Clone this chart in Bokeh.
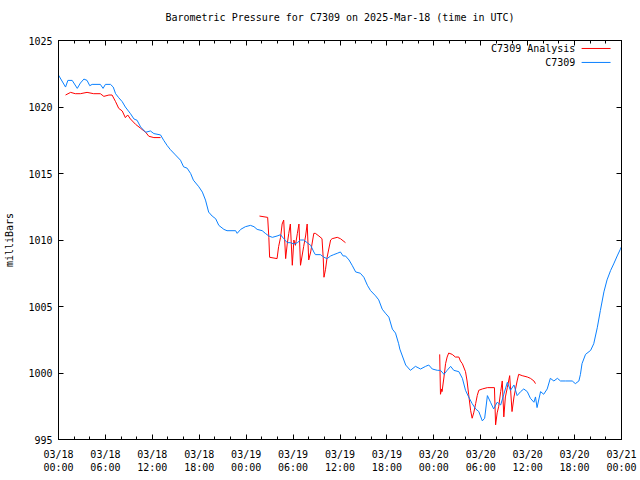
import math
from bokeh.plotting import figure
from bokeh.models import (FixedTicker, LinearAxis, Range1d, Label, Arrow,
                          ColumnDataSource, CustomLabelingPolicy)
from bokeh.embed import file_html
from bokeh.resources import INLINE

# ---------------- data (hours since 2025-03-18 00:00 UTC, millibars) ----------------
blue_hours = [0.0, 0.9, 1.2, 1.75, 2.4, 2.8, 3.25, 3.65, 4.0, 4.3,
              5.35, 5.7, 6.0, 6.65, 7.0, 7.3, 7.7, 8.15, 8.55, 9.2,
              9.65, 10.05, 10.5, 11.15, 11.75, 12.2, 13.05, 13.45, 13.9, 14.3,
              14.95, 15.6, 16.0, 16.45, 16.9, 17.25, 17.95, 18.4, 18.8, 19.2,
              19.65, 20.1, 20.5, 21.15, 21.55, 22.65, 22.85, 23.3, 23.9, 24.55,
              25.0, 25.4, 26.05, 26.45, 26.9, 27.35, 27.95, 28.4, 28.8, 29.25,
              29.65, 30.1, 30.55, 30.95, 31.35, 31.8, 32.25, 32.65, 32.85, 33.5,
              33.95, 34.35, 34.8, 35.2, 35.65, 36.05, 36.4, 36.7, 37.15, 37.55,
              38.0, 38.6, 39.05, 39.5, 39.9, 40.55, 40.95, 41.4, 41.8, 42.25,
              42.7, 43.1, 43.5, 43.65, 44.4, 45.0, 45.65, 46.3, 46.95, 47.35,
              47.8, 48.45, 48.85, 49.3, 49.7, 50.15, 50.55, 51.2, 51.65, 52.05,
              52.45, 52.9, 53.35, 53.75, 54.2, 54.5, 54.85, 55.25, 55.65, 56.1,
              56.55, 56.95, 57.4, 57.8, 58.25, 58.65, 59.1, 59.5, 59.95, 60.35,
              60.8, 61.0, 61.2, 61.65, 62.05, 62.5, 62.9, 63.35, 63.8, 64.2,
              64.85, 65.7, 66.1, 66.55, 66.75, 66.95, 67.4, 68.05, 68.45, 68.9,
              69.3, 69.75, 70.15, 70.6, 71.0, 71.45, 71.85, 72.0]
blue_mb = [1022.4, 1021.5, 1022.0, 1022.0, 1021.4, 1021.8, 1022.1, 1022.0, 1021.6, 1021.7,
           1021.7, 1021.4, 1021.7, 1021.7, 1021.5, 1021.0, 1020.7, 1020.4, 1020.0, 1019.5,
           1019.1, 1019.0, 1018.5, 1018.1, 1018.2, 1018.0, 1017.9, 1017.5, 1017.1, 1016.8,
           1016.4, 1016.0, 1015.5, 1015.4, 1015.0, 1014.5, 1014.0, 1013.6, 1013.0, 1012.1,
           1011.8, 1011.6, 1011.1, 1010.8, 1010.7, 1010.7, 1010.5, 1010.8, 1011.0, 1011.1,
           1011.0, 1010.8, 1010.7, 1010.5, 1010.3, 1010.2, 1010.3, 1010.4, 1010.1, 1009.8,
           1009.8, 1009.7, 1009.8, 1010.0, 1010.0, 1009.8, 1009.6, 1009.1, 1008.9, 1008.9,
           1008.7, 1008.6, 1008.8, 1008.9, 1009.0, 1009.1, 1008.8, 1008.8, 1008.5, 1008.1,
           1007.6, 1007.5, 1007.2, 1006.6, 1006.2, 1005.8, 1005.5, 1004.8, 1004.5, 1004.2,
           1003.3, 1003.0, 1002.2, 1001.8, 1000.6, 1000.2, 1000.5, 1000.3, 1000.5, 1000.6,
           1000.3, 1000.2, 1000.2, 999.9, 1000.2, 1000.5, 1000.2, 1000.1, 999.6, 998.7,
           998.2, 997.7, 997.3, 997.1, 996.4, 996.6, 998.3, 997.8, 997.3, 997.8,
           997.6, 998.4, 999.3, 998.7, 999.1, 998.3, 998.6, 998.8, 998.6, 998.1,
           997.8, 998.2, 997.4, 998.6, 998.4, 998.8, 999.6, 999.4, 999.6, 999.4,
           999.4, 999.4, 999.2, 999.4, 999.9, 1000.7, 1001.4, 1001.7, 1002.2, 1003.4,
           1004.7, 1006.1, 1007.0, 1007.7, 1008.2, 1008.8, 1009.3, 1009.5]

nan = float("nan")
red_hours = [0.9, 1.55, 2.15, 2.8, 3.65, 4.5, 5.35, 5.8, 6.45, 6.85,
             7.3, 7.7, 8.15, 8.55, 8.85, 9.2, 9.85, 10.5, 11.15, 11.55,
             12.2, 13.05,
             nan,
             25.7, 26.75, 26.9, 27.0, 27.95, 28.15, 28.4, 28.6, 28.8, 29.05,
             29.25, 29.45, 29.65, 29.9, 30.1, 30.3, 30.55, 30.75, 30.95, 31.35,
             31.6, 31.8, 32.0, 32.25, 32.65, 32.85, 33.3, 33.7, 33.85, 33.95,
             34.15, 34.35, 34.8, 35.0, 35.65, 36.05, 36.7,
             nan,
             48.75, 48.85, 49.0, 49.05, 49.3, 49.5, 49.7, 49.9, 50.35, 50.75,
             51.2, 51.4, 51.65, 52.05, 52.25, 52.45, 52.7, 52.9, 53.1, 53.35,
             53.55, 53.75, 54.2, 54.85, 55.75, 55.9, 56.1, 56.3, 56.55, 56.75,
             56.95, 57.15, 57.4, 57.7, 58.0, 58.25, 58.45, 58.65, 58.85, 59.3,
             59.95, 60.35, 60.8, 61.0]
red_mb = [1020.9, 1021.1, 1021.0, 1021.0, 1021.1, 1021.0, 1021.0, 1020.8, 1020.9, 1020.9,
          1020.4, 1019.9, 1019.7, 1019.2, 1019.4, 1019.1, 1018.7, 1018.4, 1018.1, 1017.8,
          1017.7, 1017.7,
          nan,
          1011.8, 1011.7, 1010.2, 1008.7, 1008.6, 1009.5, 1010.2, 1011.2, 1011.5, 1008.6,
          1009.7, 1010.5, 1011.2, 1008.1, 1010.0, 1009.6, 1010.5, 1011.2, 1008.1, 1009.5,
          1010.3, 1011.2, 1008.5, 1009.1, 1010.5, 1010.5, 1010.3, 1010.1, 1008.7, 1007.2,
          1007.8, 1008.7, 1010.0, 1010.1, 1010.2, 1010.1, 1009.8,
          nan,
          1001.4, 998.4, 998.8, 998.6, 999.7, 1000.7, 1001.2, 1001.5, 1001.4, 1001.2,
          1001.2, 1000.9, 1000.7, 1000.1, 999.4, 998.4, 997.2, 996.6, 997.0, 997.7,
          998.3, 998.7, 998.8, 998.9, 998.9, 996.1, 997.0, 997.5, 998.6, 999.4,
          996.7, 998.2, 998.9, 999.8, 997.1, 998.2, 998.8, 999.4, 999.9, 999.8,
          999.7, 999.6, 999.4, 999.2]

x_ticks = [0, 6, 12, 18, 24, 30, 36, 42, 48, 54, 60, 66, 72]
x_minor = [h for h in range(0, 73, 2)]
x_labels = ["03/18\n00:00", "03/18\n06:00", "03/18\n12:00", "03/18\n18:00",
            "03/19\n00:00", "03/19\n06:00", "03/19\n12:00", "03/19\n18:00",
            "03/20\n00:00", "03/20\n06:00", "03/20\n12:00", "03/20\n18:00",
            "03/21\n00:00"]
y_ticks = [995, 1000, 1005, 1010, 1015, 1020, 1025]

series_names = ["C7309 Analysis", "C7309"]
red_color = "#ff0000"
blue_color = "#0a80ff"

FONT = "DejaVu Sans Mono"

p = figure(frame_width=563, frame_height=399,
           x_range=Range1d(0, 72), y_range=Range1d(995, 1025),
           output_backend="svg", toolbar_location=None,
           min_border_left=58, min_border_right=19, min_border_top=40, min_border_bottom=41,
           title="Barometric Pressure for C7309 on 2025-Mar-18 (time in UTC)")
p.background_fill_color = "white"
p.border_fill_color = "white"
p.outline_line_color = "black"
p.xgrid.visible = False
p.ygrid.visible = False

p.title.align = "center"
p.title.text_font = FONT
p.title.text_font_size = "10px"
p.title.text_font_style = "normal"
p.title.text_color = "black"
p.title.standoff = 14

red_src = ColumnDataSource(dict(x=red_hours, y=red_mb))
blue_src = ColumnDataSource(dict(x=blue_hours, y=blue_mb))
p.line("x", "y", source=red_src, line_color=red_color, line_width=1)
p.line("x", "y", source=blue_src, line_color=blue_color, line_width=1)

no_labels = CustomLabelingPolicy(code="return new Set()")

def style_axis(ax, ticker, show_labels):
    ax.ticker = ticker
    ax.major_tick_in = 5
    ax.major_tick_out = 0
    ax.minor_tick_in = 3
    ax.minor_tick_out = 0
    ax.axis_line_color = "black"
    ax.major_tick_line_color = "black"
    ax.minor_tick_line_color = "black"
    ax.major_label_text_font = FONT
    ax.major_label_text_font_size = "10px"
    ax.major_label_text_color = "black"
    if not show_labels:
        ax.major_label_standoff = 0
        ax.major_label_policy = no_labels

xt = FixedTicker(ticks=x_ticks, minor_ticks=x_minor)
yt = FixedTicker(ticks=y_ticks, minor_ticks=[])

xa = p.xaxis[0]
style_axis(xa, xt, True)
xa.major_label_overrides = {t: lab for t, lab in zip(x_ticks, x_labels)}
xa.major_label_standoff = 9

ya = p.yaxis[0]
style_axis(ya, yt, True)
ya.major_label_standoff = 6
ya.axis_label = "milliBars"
ya.axis_label_text_font = FONT
ya.axis_label_text_font_size = "10px"
ya.axis_label_text_font_style = "normal"
ya.axis_label_text_color = "black"
ya.axis_label_standoff = 10

top = LinearAxis()
style_axis(top, FixedTicker(ticks=x_ticks, minor_ticks=x_minor), False)
p.add_layout(top, "above")
right = LinearAxis()
style_axis(right, FixedTicker(ticks=y_ticks, minor_ticks=[]), False)
p.add_layout(right, "right")

# legend: text right-aligned, sample line on its right
leg_text_x = 66.1
leg_line = (66.9, 70.6)
leg_y = [1024.4, 1023.35]
for name, col, yy in zip(series_names, [red_color, blue_color], leg_y):
    p.add_layout(Label(x=leg_text_x, y=yy, text=name, text_align="right",
                       text_baseline="middle", text_font=FONT,
                       text_font_size="10px", text_color="black"))
    p.add_layout(Arrow(x_start=leg_line[0], y_start=yy, x_end=leg_line[1], y_end=yy,
                       end=None, line_color=col, line_width=1))

open("out.html", "w").write(file_html(p, INLINE))
